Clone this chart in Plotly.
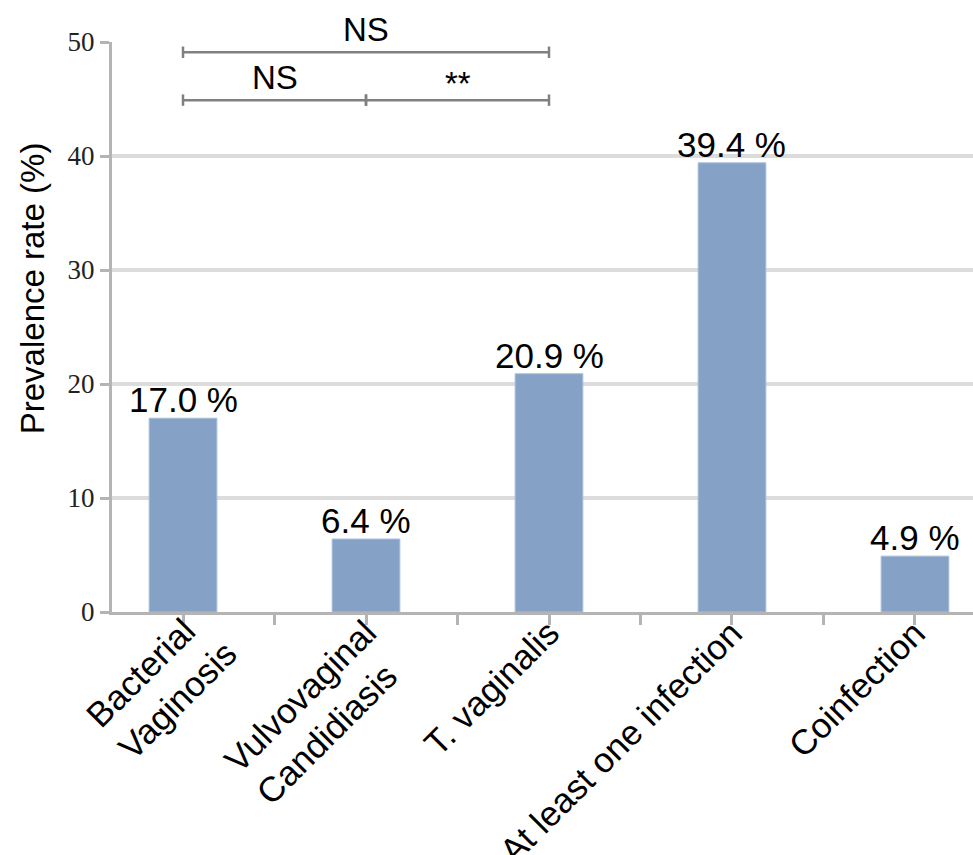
import math
import plotly.graph_objects as go

categories = ["Bacterial<br>Vaginosis", "Vulvovaginal<br>Candidiasis", "T. vaginalis",
              "At least one infection", "Coinfection"]
prevalence = [17.0, 6.4, 20.9, 39.4, 4.9]
value_labels = ["17.0 %", "6.4 %", "20.9 %", "39.4 %", "4.9 %"]
y_ticks = [0, 10, 20, 30, 40, 50]
y_title = "Prevalence rate (%)"
# comparisons: (from index, to index, label, bracket level)
comparisons = [(0, 1, "NS", 0), (1, 2, "**", 0), (0, 2, "NS", 1)]

xs = list(range(len(categories)))
AX = "#b4b4b4"
SANS = "Liberation Sans"
LBL = 35

# Arial / Liberation Sans advance widths (em) for label layout
CW = {'B': .667, 'a': .556, 'c': .5, 't': .278, 'e': .556, 'r': .333, 'i': .222, 'l': .222,
      'V': .667, 'g': .556, 'n': .556, 'o': .556, 's': .5, 'u': .556, 'v': .5, 'C': .722,
      'd': .556, 'T': .611, '.': .278, ' ': .278, 'A': .667, 'f': .278}


def text_w(s, size):
    return sum(CW.get(ch, .556) for ch in s) * size


fig = go.Figure()
fig.add_trace(go.Bar(
    x=xs, y=prevalence, width=0.37, cliponaxis=False,
    marker=dict(color="#85a2c6", line=dict(color="#a6bedc", width=1)),
))

shapes = []
for g in y_ticks[1:-1]:
    shapes.append(dict(type="line", xref="paper", yref="y", x0=0, x1=1, y0=g, y1=g,
                       line=dict(color="#dcdcdc", width=4), layer="below"))

annotations = []
for i, (v, t) in enumerate(zip(prevalence, value_labels)):
    annotations.append(dict(x=i, y=v, xref="x", yref="y", text=t, showarrow=False,
                            yanchor="bottom", yshift=-1, borderpad=0, borderwidth=0,
                            font=dict(family=SANS, size=LBL, color="black")))

level_y = [44.9, 49.1]
for a, b, lab, lv in comparisons:
    yy = level_y[lv]
    shapes.append(dict(type="line", xref="x", yref="y", x0=a, x1=b, y0=yy, y1=yy,
                       line=dict(color="#808080", width=2.5)))
    for xx in (a, b):
        shapes.append(dict(type="line", xref="x", yref="y", x0=xx, x1=xx, y0=yy - 0.5, y1=yy + 0.5,
                           line=dict(color="#808080", width=2.5)))
    annotations.append(dict(x=(a + b) / 2, y=yy, xref="x", yref="y", text=lab, showarrow=False,
                            yanchor="bottom", yshift=2 if lab != "**" else -4,
                            font=dict(family=SANS, size=33, color="black")))

# rotated category labels, lines left-aligned, first line ending at the tick
R2 = math.sqrt(2)
PX, PY = -10.0, 1.0
for i, c in enumerate(categories):
    lines = c.split("<br>")
    w1 = text_w(lines[0], LBL)
    w = max(text_w(l, LBL) for l in lines)
    h = (1.117 + 1.3 * (len(lines) - 1)) * LBL
    ax_ = PX + (w + h - w1) / R2
    ay_ = PY + (w1 - w) / R2
    annotations.append(dict(x=i, y=0, xref="x", yref="y", text=c, showarrow=False,
                            textangle=-45, xanchor="right", yanchor="top", align="left",
                            borderpad=0, borderwidth=0, xshift=ax_, yshift=-ay_,
                            font=dict(family=SANS, size=LBL, color="black")))

annotations.append(dict(x=-0.0929, y=0.568, xref="paper", yref="paper", text=y_title,
                        showarrow=False, textangle=-90, xanchor="center", yanchor="middle",
                        font=dict(family=SANS, size=33, color="black")))

tickvals = []
for i in xs:
    tickvals.append(i)
    if i < len(xs) - 1:
        tickvals.append(i + 0.5)

fig.update_layout(
    width=973, height=855, margin=dict(l=112, r=0, t=42, b=243),
    paper_bgcolor="white", plot_bgcolor="white", showlegend=False,
    shapes=shapes, annotations=annotations,
    xaxis=dict(range=[-0.388, 4.317], tickvals=tickvals, showticklabels=False, automargin=False,
               showline=True, linecolor=AX, linewidth=3, ticks="outside", ticklen=10,
               tickwidth=3, tickcolor=AX, showgrid=False, zeroline=False),
    yaxis=dict(range=[0, 50], tickvals=y_ticks, showline=True, linecolor=AX, linewidth=3,
               automargin=False, ticks="outside", ticklen=9, tickwidth=3, tickcolor=AX,
               showgrid=False, zeroline=False,
               tickfont=dict(family="Liberation Serif", size=27, color="#222")),
)
fig.write_html("out.html")
